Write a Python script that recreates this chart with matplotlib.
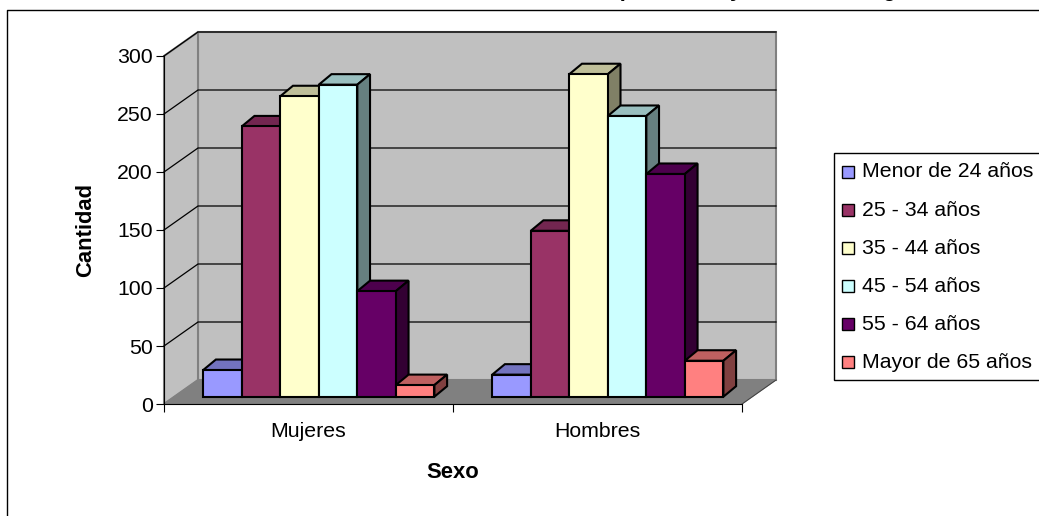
import matplotlib
matplotlib.use("Agg")
import matplotlib.pyplot as plt
from matplotlib.patches import Polygon, Rectangle

plt.rcParams["font.family"] = ["Liberation Sans", "DejaVu Sans"]

# ---------------------------------------------------------
# Data
# ---------------------------------------------------------
sexes = ["Mujeres", "Hombres"]
age_groups = ["Menor de 24 años", "25 - 34 años", "35 - 44 años",
              "45 - 54 años", "55 - 64 años", "Mayor de 65 años"]
mujeres = [23, 233, 259, 269, 91, 10]
hombres = [19, 143, 278, 242, 192, 31]
yticks = [0, 50, 100, 150, 200, 250, 300]
colors = ["#9999FF", "#993366", "#FFFFCC", "#CCFFFF", "#660066", "#FF8080"]
top_colors = ["#7373BF", "#732650", "#BFBF99", "#99BFBF", "#4D004D", "#BF6060"]
side_colors = ["#4D4D80", "#4D1A33", "#808066", "#668080", "#330033", "#804040"]

W, H = 1039, 516
fig = plt.figure(figsize=(W / 100, H / 100), dpi=100)

# axes box is the front plane of the 3D look
left, right, top, bottom = 164, 742, 56, 404
ax = fig.add_axes([left / W, 1 - bottom / H, (right - left) / W, (bottom - top) / H])
ax.set_xlim(0, 2)
ax.set_ylim(0, 300)
ax.patch.set_visible(False)

px_x = 2 / (right - left)
px_y = 300 / (bottom - top)

def shift(x, y, dx, dy):
    # move a data point by a pixel offset (dy up)
    return x + dx * px_x, y + dy * px_y

def poly(points, face, edge="black", lw=1.0, z=1):
    ax.add_patch(Polygon(points, closed=True, facecolor=face, edgecolor=edge,
                         linewidth=lw, clip_on=False, zorder=z, joinstyle="miter"))

# ---------------------------------------------------------
# Walls and floor
# ---------------------------------------------------------
wall_dx, wall_dy = 34, 24
bl = (0, 0)
br = (2, 0)
tl = (0, 300)
poly([shift(*bl, wall_dx, wall_dy), shift(*br, wall_dx, wall_dy),
      shift(*(2, 300), wall_dx, wall_dy), shift(*tl, wall_dx, wall_dy)],
     "#C0C0C0", "#808080", 1.5, 1)
poly([bl, shift(*bl, wall_dx, wall_dy), shift(*tl, wall_dx, wall_dy), tl],
     "#C0C0C0", "#808080", 1.5, 1)
poly([bl, br, shift(*br, wall_dx, wall_dy), shift(*bl, wall_dx, wall_dy)],
     "#808080", "#808080", 0.8, 1)

for v in yticks[1:]:
    x0, y0 = shift(0, v, wall_dx, wall_dy)
    x1, y1 = shift(2, v, wall_dx, wall_dy)
    ax.plot([0, x0, x1], [v, y0, y1], color="black", lw=0.9, clip_on=False, zorder=2)
x1, y1 = shift(2, 0, wall_dx, wall_dy)
ax.plot([2, x1], [0, y1], color="#404040", lw=0.7, clip_on=False, zorder=2)

# ---------------------------------------------------------
# Bars
# ---------------------------------------------------------
bar_w = 1 / 7.5
front_dx, front_dy = 10.3, 7.3
depth_dx, depth_dy = 12.7, 10.5
edge_lw = 1.5

for cat, values in enumerate([mujeres, hombres]):
    for i, v in enumerate(values):
        x0 = cat + 0.5 + (i - 3) * bar_w + front_dx * px_x
        x1 = x0 + bar_w
        y0 = front_dy * px_y
        y1 = y0 + v
        z = 3 + cat * 10 + i
        poly([(x0, y1), (x1, y1), shift(x1, y1, depth_dx, depth_dy),
              shift(x0, y1, depth_dx, depth_dy)], top_colors[i], lw=edge_lw, z=z)
        poly([(x1, y0), (x1, y1), shift(x1, y1, depth_dx, depth_dy),
              shift(x1, y0, depth_dx, depth_dy)], side_colors[i], lw=edge_lw, z=z)
        ax.bar(x0, v, width=bar_w, bottom=y0, align="edge", color=colors[i],
               edgecolor="black", linewidth=edge_lw, clip_on=False, zorder=z)

# ---------------------------------------------------------
# Axes, ticks and labels
# ---------------------------------------------------------
ax.spines["top"].set_visible(False)
ax.spines["right"].set_visible(False)
ax.spines["left"].set_zorder(2.5)
ax.spines["bottom"].set_zorder(2.5)
ax.set_yticks(yticks)
ax.set_xticks([0, 1, 2])
ax.set_xticklabels([])
ax.set_xticks([0.5, 1.5], minor=True)
ax.set_xticklabels(sexes, minor=True)
ax.tick_params(axis="x", which="major", length=6, width=0.8)
ax.tick_params(axis="x", which="minor", length=0, pad=13, labelsize=15.3)
ax.tick_params(axis="y", length=6, width=0.8, pad=2, labelsize=15.3)

fig.text(453 / W, 1 - 473 / H, "Sexo", fontsize=15.8, fontweight="bold",
         ha="center", va="center")
fig.text(86 / W, 1 - 230 / H, "Cantidad", fontsize=15.8, fontweight="bold",
         rotation=90, ha="center", va="center")

# title sits mostly above the top edge, only descenders show
title_head = "Total de docentes "
title_tail = "por sexos y edad total según"
title_size = 15.8
r = fig.canvas.get_renderer()
probe = fig.text(0, 0, title_head, fontsize=title_size, fontweight="bold")
head_w = probe.get_window_extent(r).width
probe.remove()
fig.text((620 - head_w) / W, 1 + 3.6 / H, title_head + title_tail, fontsize=title_size,
         fontweight="bold", ha="left", va="baseline", clip_on=False)

# outer chart frame, cut by the image edge
fig.add_artist(plt.Line2D([7 / W, 7 / W, 1], [0, 1 - 10 / H, 1 - 10 / H],
                          color="black", lw=1))

# ---------------------------------------------------------
# Legend box
# ---------------------------------------------------------
fig.add_artist(Rectangle((833.5 / W, 1 - 380 / H), 230 / W, 227.5 / H,
                         transform=fig.transFigure, facecolor="white",
                         edgecolor="black", lw=1))
for i, label in enumerate(age_groups):
    yc = 172 + i * 38
    fig.add_artist(Rectangle((841.5 / W, 1 - (yc + 6) / H), 12 / W, 12 / H,
                             transform=fig.transFigure, facecolor=colors[i],
                             edgecolor="black", lw=1))
    fig.text(862 / W, 1 - yc / H, label, fontsize=15.3, ha="left", va="center")

fig.savefig("out.png", dpi=100)
